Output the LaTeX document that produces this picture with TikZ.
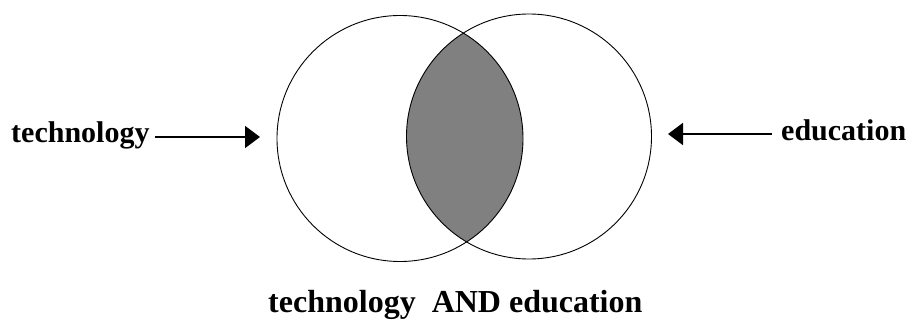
\documentclass[tikz,border=0pt]{standalone}
\usepackage{fontspec}
\setmainfont{Liberation Serif}
\usetikzlibrary{arrows.meta}
\begin{document}
\begin{tikzpicture}[x=1pt,y=1pt,
  circ/.style={draw=black,line width=0.9pt},
  lbl/.style={inner sep=0pt,font=\fontsize{30}{33}\selectfont\bfseries},
  arr/.style={line width=2pt,-{Triangle[length=15pt,width=22pt]}}]
\useasboundingbox (0,0) rectangle (908,322);
\coordinate (cl) at (400,183.5);
\coordinate (cr) at (529,185.5);
\begin{scope}
  \clip (cl) circle (123);
  \fill[fill={rgb,255:red,128;green,128;blue,128}] (cr) circle (122.5);
\end{scope}
\node[circ,circle,minimum size=246pt,inner sep=0pt] (L) at (cl) {};
\node[circ,circle,minimum size=245pt,inner sep=0pt] (R) at (cr) {};
\node[lbl,anchor=base west] (tech) at (11,179) {technology};
\node[lbl,anchor=base west] (edu) at (781,182) {education};
\node[inner sep=0pt,anchor=base west,font=\fontsize{32}{35}\selectfont\bfseries] (both) at (268,10) {technology\ \ AND education};
\coordinate (ta) at (155,185);
\coordinate (tb) at (260,185);
\coordinate (ea) at (772,188);
\coordinate (eb) at (668,188);
\draw[arr] (ta) -- (tb);
\draw[arr] (ea) -- (eb);
\end{tikzpicture}
\end{document}
